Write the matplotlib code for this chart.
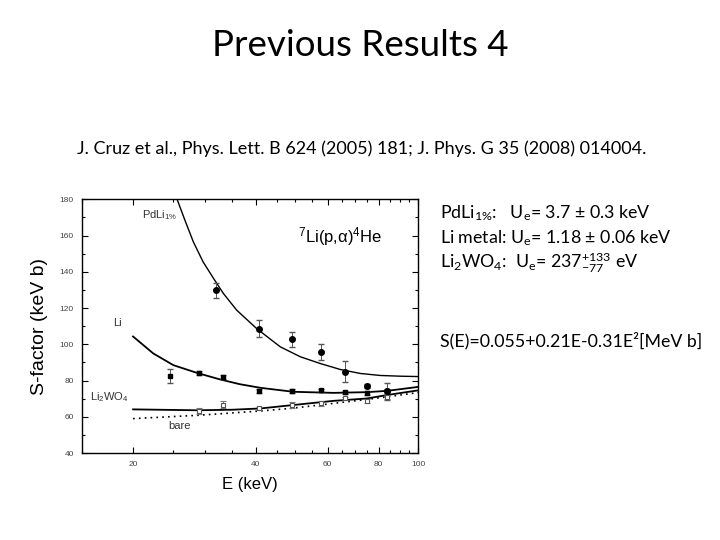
import numpy as np
import matplotlib.pyplot as plt
from matplotlib.ticker import FixedLocator, NullFormatter, FixedFormatter

plt.rcParams['font.family'] = ['Liberation Sans', 'DejaVu Sans']
plt.rcParams['mathtext.fontset'] = 'custom'
plt.rcParams['mathtext.default'] = 'regular'

# PdLi 1% data (filled circles)
e_pd = [32.0, 40.6, 49.0, 57.7, 66.2, 74.8, 83.8]
s_pd = [129.7, 108.7, 102.7, 95.8, 84.8, 77.1, 74.0]
err_pd = [4.0, 4.8, 4.0, 4.6, 5.8, 1.0, 4.8]

# Li metal data (filled squares)
e_li = [24.7, 29.0, 33.3, 40.7, 49.1, 57.9, 66.3, 74.8, 83.8]
s_li = [82.4, 84.3, 82.1, 74.3, 74.2, 74.6, 73.5, 73.1, 74.3]
err_li = [4.0, 1.0, 1.0, 1.0, 1.0, 1.0, 1.0, 1.0, 1.0]

# Li2WO4 data (open squares)
e_wo = [29.0, 33.3, 40.7, 49.1, 57.9, 66.3, 74.8, 83.8]
s_wo = [63.3, 66.6, 64.6, 66.5, 67.5, 70.1, 68.8, 71.0]
err_wo = [1.5, 2.0, 0.8, 1.5, 1.3, 1.0, 1.0, 1.0]

# fitted curves
e_c_pd = [25.6, 26.8, 28.1, 29.7, 31.5, 33.3, 35.9, 40.2, 45.9, 51.4, 57.5,
          64.4, 72.1, 80.7, 90.3, 100.0]
s_c_pd = [180.4, 168.4, 156.5, 145.4, 136.3, 128.0, 118.8, 108.6, 98.6, 93.1,
          89.4, 86.1, 83.9, 82.8, 82.4, 82.2]
e_c_li = [20.0, 22.4, 25.1, 28.7, 32.7, 36.5, 41.0, 49.4, 62.0, 74.8, 83.8, 100.0]
s_c_li = [104.3, 95.0, 88.5, 84.2, 80.6, 78.0, 76.0, 73.8, 73.2, 73.6, 74.3, 76.5]
e_c_wo = [20.0, 28.7, 35.0, 41.0, 49.4, 62.0, 74.8, 83.8, 100.0]
s_c_wo = [64.1, 63.6, 63.9, 64.6, 66.5, 68.8, 70.1, 72.0, 74.6]
e_bare = [20.0, 28.7, 41.0, 49.4, 62.0, 74.8, 83.8, 100.0]
s_bare = [59.0, 60.8, 63.2, 64.8, 67.4, 69.6, 71.0, 73.4]

x_major = [20, 40, 60, 80, 100]
x_minor = [15, 25, 30, 35, 45, 50, 55, 65, 70, 75, 85, 90, 95]

fig = plt.figure(figsize=(7.2, 5.4), dpi=100)

slide = ['Lato', 'DejaVu Sans']
fig.text(0.5, 0.915, 'Previous Results 4', ha='center', va='center',
         fontsize=26.5, family=slide)
fig.text(0.503, 0.725, 'J. Cruz et al., Phys. Lett. B 624 (2005) 181; J. Phys. G 35 (2008) 014004.',
         ha='center', va='center', fontsize=13, family=slide)
plt.rcParams['mathtext.rm'] = 'Lato'
right = ['PdLi$_{1\\%}$:   U$_e$= 3.7 ± 0.3 keV',
         'Li metal: U$_e$= 1.18 ± 0.06 keV',
         'Li$_2$WO$_4$:  U$_e$= 237$^{+133}_{-77}$ eV']
for i, line in enumerate(right):
    fig.text(0.611, 0.605 - i * 0.046, line, ha='left', va='center',
             fontsize=12.8, family=slide)
fig.text(0.611, 0.37, 'S(E)=0.055+0.21E-0.31E²[MeV b]', ha='left', va='center',
         fontsize=12.8, family=slide)

ax = fig.add_axes([0.114, 0.161, 0.467, 0.470])
ax.set_xscale('log')

ax.plot(e_c_pd, s_c_pd, color='black', lw=1)
ax.plot(e_c_li, s_c_li, color='black', lw=1.3)
ax.plot(e_c_wo, s_c_wo, color='black', lw=1.3)
ax.plot(e_bare, s_bare, color='black', lw=1.2, ls=(0, (1, 2.5)))

ax.errorbar(e_pd, s_pd, yerr=err_pd, fmt='o', color='black', ms=4,
            elinewidth=0.7, ecolor='#555555', capsize=2)
ax.errorbar(e_li, s_li, yerr=err_li, fmt='s', color='black', ms=3.5,
            elinewidth=0.7, ecolor='#555555', capsize=2)
ax.errorbar(e_wo, s_wo, yerr=err_wo, fmt='s', color='#555555', mfc='white',
            ms=3.5, mew=0.8, elinewidth=0.7, ecolor='#777777', capsize=2)

ax.set_xlim(15, 100)
ax.set_ylim(40, 180)
ax.xaxis.set_major_locator(FixedLocator(x_major))
ax.xaxis.set_major_formatter(FixedFormatter([str(v) for v in x_major]))
ax.xaxis.set_minor_locator(FixedLocator(x_minor))
ax.xaxis.set_minor_formatter(NullFormatter())
ax.set_yticks(np.arange(40, 181, 20))
ax.set_yticks(np.arange(40, 181, 10), minor=True)
ax.tick_params(which='both', direction='in', top=True, right=True,
               labelsize=6, labelcolor='#444444', width=0.8)
ax.tick_params(which='major', length=4, pad=6)
ax.tick_params(which='minor', length=2)
for s in ax.spines.values():
    s.set_linewidth(1)

ax.set_xlabel('E (keV)', fontsize=12, labelpad=6)
ax.set_ylabel('S-factor (keV b)', fontsize=14, labelpad=8)

ax.text(21.0, 171.4, 'PdLi$_{1\\%}$', fontsize=8, color='#333333',
        va='center')
ax.text(50.8, 159.4, '$^7$Li(p,α)$^4$He', fontsize=12, va='center')
ax.text(17.9, 111.7, 'Li', fontsize=8, color='#333333', va='center')
ax.text(15.7, 71.0, 'Li$_2$WO$_4$', fontsize=8, color='#333333', va='center')
ax.text(24.4, 54.7, 'bare', fontsize=8, color='#333333', va='center')

fig.savefig('out.png', dpi=100)
